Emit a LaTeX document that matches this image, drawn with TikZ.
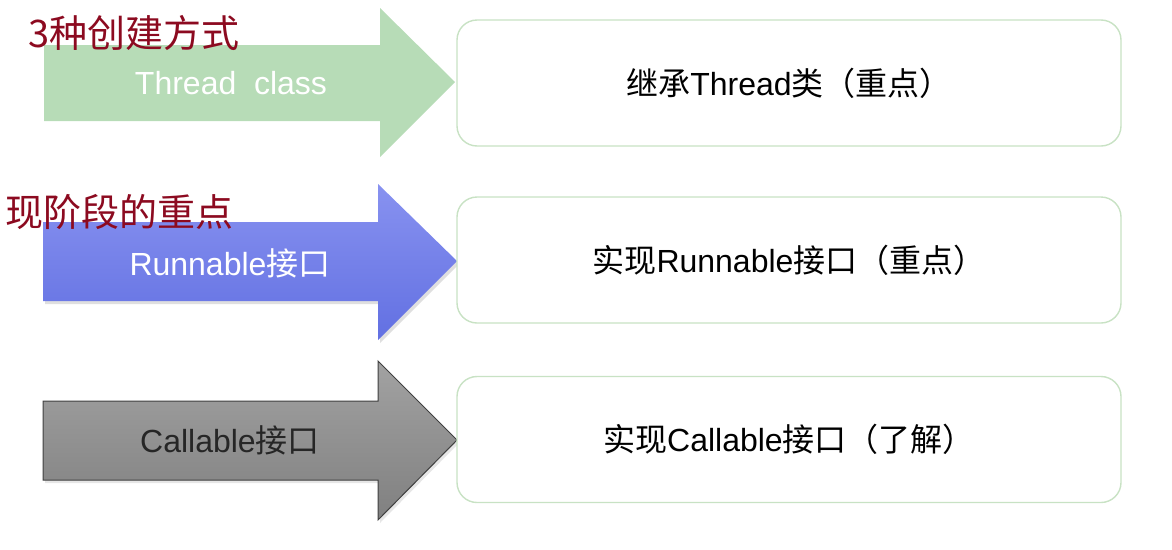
\documentclass[tikz,border=0pt]{standalone}
\usepackage{fontspec}
\setmainfont{Liberation Sans}
\newfontfamily\cjk{Noto Sans CJK SC}
\usepackage{xcolor}
\usetikzlibrary{positioning, shadows}

\definecolor{titlered}{RGB}{140,10,32}
\definecolor{threadgreen}{RGB}{183,220,183}
\definecolor{runtop}{RGB}{136,146,240}
\definecolor{runbot}{RGB}{98,112,226}
\definecolor{calltop}{RGB}{162,162,162}
\definecolor{callbot}{RGB}{128,128,128}
\definecolor{boxedge}{RGB}{200,226,196}

\newcommand{\zh}[1]{{\cjk #1}}

\begin{document}
\begin{tikzpicture}[
  x=1pt, y=-1pt,
  every node/.style={inner sep=0pt},
  bigarrow/.style={line join=miter},
  title/.style={anchor=west, text=titlered, font=\cjk\fontsize{38}{42}\selectfont},
  arrlabel/.style={font=\fontsize{32}{36}\selectfont},
  box/.style={draw=boxedge, line width=1.4pt, rounded corners=20pt, fill=white,
              minimum width=664pt, minimum height=126pt, align=center,
              font=\fontsize{32}{36}\selectfont}
]
\useasboundingbox (0,0) rectangle (1172,549);

%% 1. Thread class
\fill[bigarrow, threadgreen] (44,45) -- (380,45) -- (380,8) -- (455,82)
  -- (380,157) -- (380,121) -- (44,121) -- cycle;
\node[arrlabel, text=white] (thread) at (231,83) {Thread\ \ class};
\node[box] (threadbox) at (789,83) {\zh{继承}Thread\zh{类（重点）}};

%% 2. Runnable
\shade[bigarrow, top color=runtop, bottom color=runbot,
  drop shadow={opacity=0.25, shadow xshift=2pt, shadow yshift=-3pt}]
  (43,222) -- (378,222) -- (378,184) -- (457,261)
  -- (378,340) -- (378,301) -- (43,301) -- cycle;
\node[arrlabel, text=white] (runnable) at (230,263) {Runnable\zh{接口}};
\node[box] (runnablebox) at (789,260) {\zh{实现}Runnable\zh{接口（重点）}};

%% 3. Callable
\shade[bigarrow, top color=calltop, bottom color=callbot, draw=black!75, line width=1pt,
  drop shadow={opacity=0.2, shadow xshift=2pt, shadow yshift=-3pt}]
  (43,401) -- (378,401) -- (378,361) -- (457,440)
  -- (378,520) -- (378,480) -- (43,480) -- cycle;
\node[arrlabel, text=black!85] (callable) at (230,440) {Callable\zh{接口}};
\node[box] (callablebox) at (789,439.5) {\zh{实现}Callable\zh{接口（了解）}};

%% ---- Titles ----
\node[title] (howto) at (28,33) {3种创建方式};
\node[title] (focus) at (5,212) {现阶段的重点};

\end{tikzpicture}
\end{document}
